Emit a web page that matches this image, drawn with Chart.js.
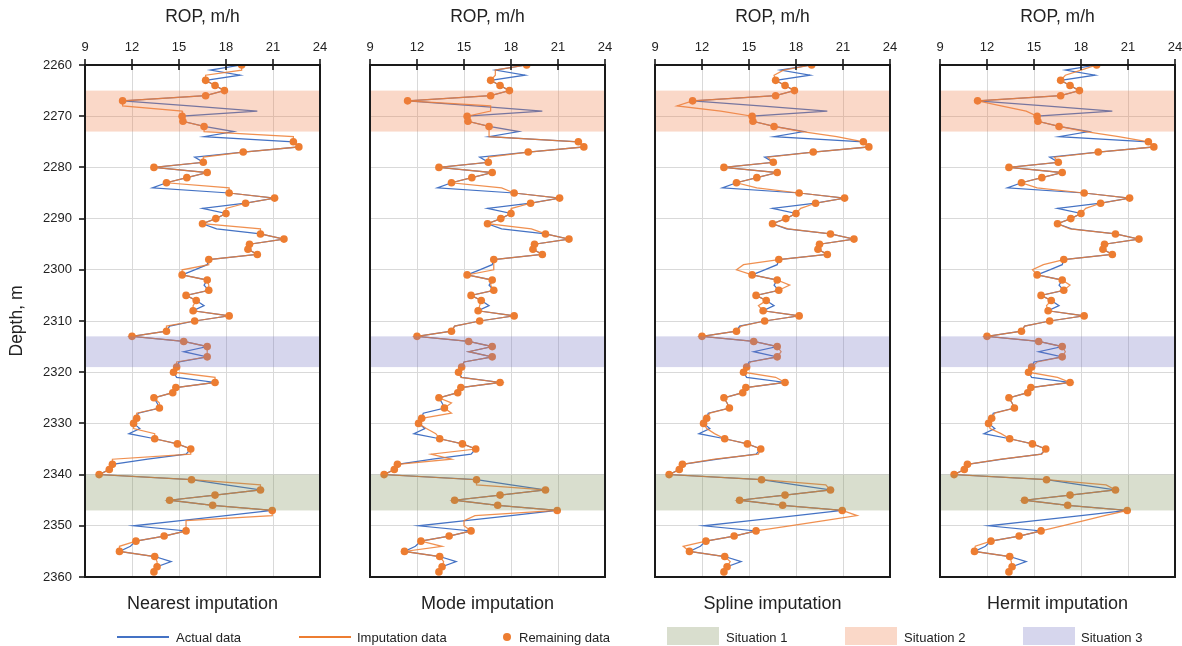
<!DOCTYPE html>
<html><head><meta charset="utf-8">
<script src="https://cdn.jsdelivr.net/npm/chart.js@4/dist/chart.umd.min.js"></script>
<style>
html,body{margin:0;padding:0;background:#fff;}
#wrap{position:relative;width:1182px;height:646px;overflow:hidden;font-family:"Liberation Sans",Arial,sans-serif;color:#222;}
.pc{position:absolute;top:0;}
.cap{position:absolute;top:594px;width:235px;text-align:center;font-size:18px;line-height:18px;white-space:nowrap;}
.lg{position:absolute;top:631px;font-size:13px;line-height:13px;white-space:nowrap;}
.ln{position:absolute;height:1.5px;top:636px;}
.dot{position:absolute;width:8px;height:8px;border-radius:50%;top:633px;}
.box{position:absolute;top:627px;height:18px;width:52px;}
</style></head><body>
<div id="wrap"></div>
<script>
// ---------- data ----------
const depths = [2260,2261,2262,2263,2264,2265,2266,2267,2268,2269,2270,2271,2272,2273,2274,2275,2276,2277,2278,2279,
2280,2281,2282,2283,2284,2285,2286,2287,2288,2289,2290,2291,2292,2293,2294,2295,2296,2297,2298,2299,
2300,2301,2302,2303,2304,2305,2306,2307,2308,2309,2310,2311,2312,2313,2314,2315,2316,2317,2318,2319,
2320,2321,2322,2323,2324,2325,2326,2327,2328,2329,2330,2331,2332,2333,2334,2335,2336,2337,2338,2339,
2340,2341,2342,2343,2344,2345,2346,2347,2348,2349,2350,2351,2352,2353,2354,2355,2356,2357,2358,2359];
const actualROP = [19.0,17.0,18.9,16.7,17.3,17.9,16.7,11.4,15.7,20.0,15.2,15.25,16.6,18.5,16.6,22.3,22.65,19.1,16.0,16.55,
13.4,16.8,15.5,14.2,13.3,18.2,21.1,19.25,16.5,18.0,17.35,16.5,17.4,20.2,21.7,19.5,19.4,20.0,16.9,16.8,
16.0,15.2,16.8,16.6,16.9,15.45,16.1,16.6,15.9,18.2,16.0,14.4,14.2,12.0,15.3,16.8,15.3,16.8,15.0,14.85,
14.65,14.85,17.3,14.8,14.6,13.4,13.6,13.75,12.4,12.3,12.1,12.5,11.8,13.45,14.9,15.75,15.45,13.0,10.75,10.55,
9.9,15.8,18.0,20.2,17.3,14.4,17.15,20.95,18.0,15.1,12.1,15.45,14.05,12.25,11.9,11.2,13.45,14.5,13.6,13.4];
const missingDepths = [2261,2262,2268,2269,2273,2274,2278,2284,2288,2292,2299,2300,2303,2307,2311,2316,2318,2321,2326,2328,2331,2332,2336,2337,2342,2348,2349,2350,2354,2357];
const nearestFill = [19.0,16.7,11.4,15.2,16.6,22.3,16.55,18.2,18.0,20.2,16.9,15.2,16.9,15.9,14.2,16.8,14.85,17.3,13.75,12.3,12.1,13.45,15.75,10.75,20.2,20.95,15.45,15.45,11.2,13.6];
const modeFill    = [17.0,17.0,16.7,16.7,16.6,16.6,16.55,17.4,18.05,19.3,16.9,16.9,16.7,16.0,14.4,15.3,15.0,14.8,14.2,14.2,12.6,13.2,12.9,14.2,15.8,15.7,15.0,15.0,13.6,13.7];
const splineFill  = [17.2,16.6,10.4,13.2,18.4,20.6,16.2,15.5,18.3,17.5,14.65,14.2,17.6,15.6,14.5,17.05,15.1,16.7,13.6,12.5,12.3,12.8,15.6,12.8,19.9,21.9,19.8,17.6,10.8,13.8];
const hermitFill  = [18.0,17.0,12.9,14.5,18.3,20.4,16.3,15.2,18.3,17.3,15.6,14.9,17.3,15.8,14.4,17.0,15.2,16.5,13.6,12.5,12.2,12.9,15.5,12.9,19.6,19.5,18.2,16.8,11.25,13.55];
const panelTitles = ['Nearest imputation','Mode imputation','Spline imputation','Hermit imputation'];
const xTickValues = [9,12,15,18,21,24];
const depthTickValues = [2260,2270,2280,2290,2300,2310,2320,2330,2340,2350,2360];
const bandNames  = ['Situation 1','Situation 2','Situation 3'];
const bandTop    = [2340, 2265, 2313];
const bandBottom = [2347, 2273, 2319];
const seriesNames = ['Actual data','Imputation data','Remaining data'];

// ---------- style ----------
const BLUE = '#4472C4', ORANGE = '#ED7D31';
const bandColors = ['rgba(128,145,92,0.3)','rgba(237,125,72,0.3)','rgba(118,118,195,0.3)'];
const FONT = '"Liberation Sans", Arial, sans-serif';
const TXT = '#222';

const fills = [nearestFill, modeFill, splineFill, hermitFill];
const panelLeft = [0, 360, 645, 930];
const panelWidth = [330, 255, 255, 255];
const plotLeftInCanvas = [85, 10, 10, 10];

const framePlugin = {
  id: 'frame',
  afterDatasetsDraw(chart, args, opts) {
    const {ctx, chartArea: a, scales: {x, y}} = chart;
    ctx.save();
    bandTop.forEach((t, i) => {
      const y1 = y.getPixelForValue(t), y2 = y.getPixelForValue(bandBottom[i]);
      ctx.fillStyle = bandColors[i];
      ctx.fillRect(a.left, Math.min(y1, y2), a.right - a.left, Math.abs(y2 - y1));
    });
    ctx.strokeStyle = '#1a1a1a';
    ctx.lineWidth = 2;
    ctx.strokeRect(a.left, a.top, a.right - a.left, a.bottom - a.top);
    ctx.lineWidth = 1.6;
    x.ticks.forEach(t => {
      const px = Math.round(x.getPixelForValue(t.value));
      ctx.beginPath(); ctx.moveTo(px, a.top - 6); ctx.lineTo(px, a.top + 5); ctx.stroke();
    });
    if (opts.leftTicks) {
      y.ticks.forEach(t => {
        const py = Math.round(y.getPixelForValue(t.value));
        ctx.beginPath(); ctx.moveTo(a.left - 6, py); ctx.lineTo(a.left, py); ctx.stroke();
      });
    }
    ctx.restore();
  }
};

const wrap = document.getElementById('wrap');

for (let p = 0; p < 4; p++) {
  const div = document.createElement('div');
  div.className = 'pc';
  div.style.left = panelLeft[p] + 'px';
  const cv = document.createElement('canvas');
  cv.width = panelWidth[p]; cv.height = 646;
  cv.style.width = panelWidth[p] + 'px'; cv.style.height = '646px';
  div.appendChild(cv);
  wrap.appendChild(div);

  const fill = fills[p];
  const actualPts = depths.map((d, i) => ({x: actualROP[i], y: d}));
  const imputedPts = depths.map((d, i) => {
    const k = missingDepths.indexOf(d);
    return {x: k >= 0 ? fill[k] : actualROP[i], y: d};
  });
  const remainPts = depths.map((d, i) => ({x: actualROP[i], y: d})).filter(pt => missingDepths.indexOf(pt.y) < 0);

  const isFirst = p === 0;
  const lp = plotLeftInCanvas[p];

  new Chart(cv, {
    type: 'scatter',
    data: {
      datasets: [
        {label: seriesNames[2], data: remainPts, showLine: false, pointRadius: 3.8, pointHoverRadius: 3.8,
         backgroundColor: ORANGE, borderColor: ORANGE, borderWidth: 0, order: 0},
        {label: seriesNames[1], data: imputedPts, showLine: true, pointRadius: 0, borderColor: 'rgba(237,125,49,0.85)',
         borderWidth: 1.25, backgroundColor: ORANGE, order: 1},
        {label: seriesNames[0], data: actualPts, showLine: true, pointRadius: 0, borderColor: BLUE,
         borderWidth: 1.25, backgroundColor: BLUE, order: 2}
      ]
    },
    options: {
      responsive: false, animation: false, maintainAspectRatio: false,
      layout: {padding: {left: 0, right: 10, top: 0, bottom: 69}},
      plugins: {legend: {display: false}, tooltip: {enabled: false}, frame: {leftTicks: isFirst}},
      scales: {
        x: {
          type: 'linear', position: 'top', min: 9, max: 24,
          afterBuildTicks: s => { s.ticks = xTickValues.map(v => ({value: v})); },
          afterFit: s => { s.height = 65; s.paddingLeft = 0; s.paddingRight = 0; },
          grid: {color: '#d9d9d9', lineWidth: 1, drawTicks: false},
          border: {display: false},
          ticks: {padding: 10, color: TXT, font: {family: FONT, size: 13}, maxRotation: 0, callback: v => String(v)},
          title: {display: true, text: 'ROP, m/h', color: TXT, font: {family: FONT, size: 17.5}, padding: {top: 7, bottom: 0}}
        },
        y: {
          type: 'linear', reverse: true, min: 2260, max: 2360,
          afterBuildTicks: s => { s.ticks = depthTickValues.map(v => ({value: v})); },
          afterFit: s => { s.width = lp; s.paddingTop = 0; s.paddingBottom = 0; },
          grid: {color: '#d9d9d9', lineWidth: 1, drawTicks: false},
          border: {display: false},
          ticks: {display: isFirst, padding: 13, color: TXT, font: {family: FONT, size: 13}, callback: v => String(v)},
          title: {display: isFirst, text: 'Depth, m', color: TXT, font: {family: FONT, size: 17.5}, padding: {top: 7, bottom: 0}}
        }
      }
    },
    plugins: [framePlugin]
  });

  const cap = document.createElement('div');
  cap.className = 'cap';
  cap.style.left = (panelLeft[p] + lp) + 'px';
  cap.textContent = panelTitles[p];
  wrap.appendChild(cap);
}

// ---------- legend ----------
function add(cls, left, extra) {
  const e = document.createElement('div');
  e.className = cls; e.style.left = left + 'px';
  Object.assign(e.style, extra || {});
  wrap.appendChild(e);
  return e;
}
add('ln', 117, {width: '52px', background: BLUE});
add('lg', 176).textContent = seriesNames[0];
add('ln', 299, {width: '52px', background: ORANGE});
add('lg', 357).textContent = seriesNames[1];
add('dot', 503, {background: ORANGE});
add('lg', 519).textContent = seriesNames[2];
const boxLeft = [667, 845, 1023];
const textLeft = [726, 904, 1081];
for (let i = 0; i < 3; i++) {
  add('box', boxLeft[i], {background: bandColors[i]});
  add('lg', textLeft[i]).textContent = bandNames[i];
}
</script>
</body></html>
